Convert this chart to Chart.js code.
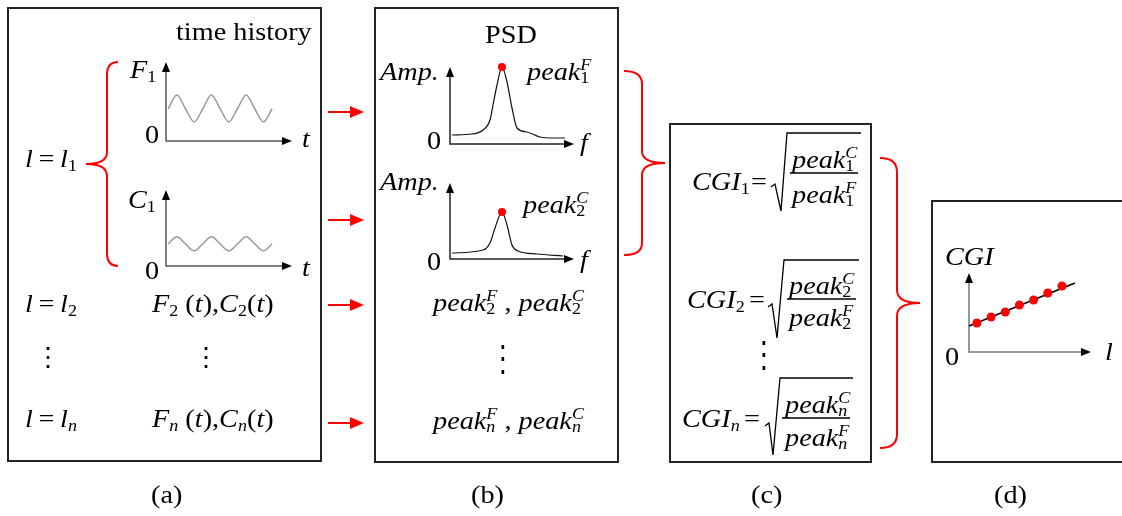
<!DOCTYPE html>
<html>
<head>
<meta charset="utf-8">
<script src="https://cdn.jsdelivr.net/npm/chart.js@4.4.1/dist/chart.umd.min.js"></script>
<style>
    html, body { margin: 0; padding: 0; background: #fff; }
    #page { position: relative; width: 1122px; height: 516px; overflow: hidden; background: #fff;
            font-family: "Liberation Serif", "Times New Roman", serif; color: #000; }
    .box { position: absolute; border: 2px solid #222; box-sizing: border-box; }
    .t { position: absolute; font-size: 25px; line-height: 25px; white-space: nowrap;
         transform: scaleX(1.13); transform-origin: 0 0; }
    .t sub { font-size: 16px; vertical-align: -4px; line-height: 0; }
    .ss { display: inline-block; font-size: 16px; line-height: 13px; vertical-align: -3px; }
    .ss > span { display: block; }
    .dots { position: absolute; font-family: "DejaVu Serif", serif; font-size: 26px; line-height: 1;
            transform-origin: 50% 0; }
    canvas { position: absolute; }
    svg { position: absolute; left: 0; top: 0; }
</style>
</head>
<body>
<div id="page">
    <div class="box" style="left:7px; top:7px; width:315px; height:455px;"></div>
    <div class="box" style="left:374px; top:7px; width:245px; height:456px;"></div>
    <div class="box" style="left:669px; top:123px; width:203px; height:340px;"></div>
    <div class="box" style="left:931px; top:200px; width:220px; height:263px;"></div>

    <canvas id="forceChart" width="138" height="91" style="left:160px; top:56px;"></canvas>
    <canvas id="cableChart" width="138" height="88" style="left:160px; top:184px;"></canvas>
    <canvas id="psdForceChart" width="136" height="89" style="left:444px; top:61px;"></canvas>
    <canvas id="psdCableChart" width="136" height="88" style="left:444px; top:177px;"></canvas>
    <canvas id="cgiChart" width="134" height="91" style="left:963px; top:267px;"></canvas>

    <svg width="1122" height="516">
        <g fill="none" stroke="#f00" stroke-width="2">
            <!-- braces -->
            <path d="M118,62 Q107,62 107,75 L107,152 Q107,164 86,164 Q107,164 107,176 L107,253 Q107,266 118,266"/>
            <path d="M624,71 Q642,71 642,84 L642,151 Q642,163 665,163 Q642,163 642,175 L642,243 Q642,255 624,255"/>
            <path d="M880,158 Q897,158 897,172 L897,290 Q897,303 920,303 Q897,303 897,316 L897,434 Q897,448 880,448"/>
        </g>
        <g id="arrows"></g>
        <g fill="none" stroke="#000" stroke-width="1.3">
            <!-- radicals and fraction bars -->
            <path d="M771,187 L775,184 L781,211 L787,133 L861,133"/>
            <path d="M790,173 L858,173"/>
            <path d="M768,307 L772,304 L777,338 L784,260 L859,260"/>
            <path d="M787,299 L856,299"/>
            <path d="M765,426 L769,423 L773,455 L780,378 L853,378"/>
            <path d="M782,418 L850,418"/>
        </g>
    </svg>
</div>

<script>
// time histories, one sample per quarter period
const timeSteps = [0, 1, 2, 3, 4, 5, 6, 7, 8, 9, 10, 11, 12];
const forceSignal = [2.45, 3.5, 2.45, 1.45, 2.45, 3.5, 2.45, 1.45, 2.45, 3.5, 2.45, 1.45, 2.45];
const cableSignal = [1.75, 2.3, 1.75, 1.2, 1.75, 2.3, 1.75, 1.2, 1.75, 2.3, 1.75, 1.2, 1.75];

// power spectral densities
const psdForceFreq = [0.2, 2.2, 3.3, 4.0, 4.3, 4.7, 5.2, 5.7, 6.2, 6.7, 7.7, 9.0, 10.3, 11.5];
const psdForceAmp = [0.9, 1.0, 1.4, 2.4, 3.9, 5.9, 7.7, 6.2, 3.6, 1.6, 1.2, 0.7, 0.6, 0.6];
const psdCableFreq = [0.2, 3.3, 4.0, 4.5, 5.2, 5.7, 6.2, 6.8, 8.7, 11.3];
const psdCableAmp = [0.6, 0.9, 1.6, 3.1, 4.7, 3.4, 1.4, 0.8, 0.5, 0.3];
const peakForce = { f: 5.2, amp: 7.7 };
const peakCable = { f: 5.2, amp: 4.7 };

// CGI against length
const lengths = [1, 2, 3, 4, 5, 6, 7];
const cgiValues = [0.29, 0.35, 0.40, 0.47, 0.52, 0.59, 0.66];
const trendLengths = [0.44, 7.92];
const trendCgi = [0.26, 0.69];

const arrowY = [112, 220, 305, 423];

const page = document.getElementById('page');

function put(html, x, base) {
    const d = document.createElement('div');
    d.className = 't';
    d.style.left = x + 'px';
    d.style.top = (base - 21) + 'px';
    d.innerHTML = html;
    page.appendChild(d);
}
function ss(sup, sub) {
    return '<span class="ss"><span><i>' + sup + '</i></span><span>' + sub + '</span></span>';
}
// vertical ellipsis, stretched to the wanted dot spacing
function vdots(x, top, stretch) {
    const d = document.createElement('div');
    d.className = 'dots';
    d.textContent = '\u22EE';
    page.appendChild(d);
    const r = d.getBoundingClientRect();
    d.style.left = (x - r.width / 2) + 'px';
    d.style.top = (top - 26 * 0.22 * stretch) + 'px';
    d.style.transform = 'scaleY(' + stretch + ')';
}
const pk = (sup, sub) => '<i>peak</i>' + ss(sup, sub);

// (a)
put('time history', 176, 40);
put('<i>F</i><sub>1</sub>', 130, 78);
put('0', 145, 143);
put('<i>t</i>', 302, 147);
put('<i>l</i>\u2009=\u2009<i>l</i><sub>1</sub>', 25, 167);
put('<i>C</i><sub>1</sub>', 128, 208);
put('0', 145, 279);
put('<i>t</i>', 302, 276);
put('<i>l</i>\u2009=\u2009<i>l</i><sub>2</sub>', 25, 312);
put('<i>F</i><sub>2</sub> (<i>t</i>),<i>C</i><sub>2</sub>(<i>t</i>)', 152, 312);
put('<i>l</i>\u2009=\u2009<i>l</i><sub><i>n</i></sub>', 25, 427);
put('<i>F<sub>n</sub></i> (<i>t</i>),<i>C<sub>n</sub></i>(<i>t</i>)', 152, 427);
vdots(48, 350, 1);
vdots(206, 350, 1);

// (b)
put('PSD', 485, 43);
put('<i>Amp.</i>', 380, 80);
put('0', 427, 149);
put('<i>f</i>', 580, 151);
put(pk('F', '1'), 527, 79);
put('<i>Amp.</i>', 380, 190);
put('0', 427, 270);
put('<i>f</i>', 580, 268);
put(pk('C', '2'), 523, 212);
put(pk('F', '2') + ' , ' + pk('C', '2'), 433, 310);
put(pk('F', '<i>n</i>') + ' , ' + pk('C', '<i>n</i>'), 433, 428);
vdots(503, 348, 1.4);

// (c)
put('<i>CGI</i><sub>1</sub>', 692, 190);
put('=', 751, 190);
put(pk('C', '1'), 792, 167);
put(pk('F', '1'), 792, 202);
put('<i>CGI</i><sub>2</sub>', 687, 308);
put('=', 749, 308);
put(pk('C', '2'), 789, 293);
put(pk('F', '2'), 789, 325);
put('<i>CGI<sub>n</sub></i>', 682, 427);
put('=', 744, 427);
put(pk('C', '<i>n</i>'), 785, 412);
put(pk('F', '<i>n</i>'), 785, 445);
vdots(764, 344, 1.4);

// (d)
put('<i>CGI</i>', 945, 265);
put('0', 945, 365);
put('<i>l</i>', 1105, 360);

// panel captions
put('(a)', 151, 503);
put('(b)', 471, 503);
put('(c)', 751, 503);
put('(d)', 994, 503);

// red flow arrows between (a) and (b)
const arrowGroup = document.getElementById('arrows');
arrowY.forEach(y => {
    arrowGroup.innerHTML +=
        '<line x1="328" y1="' + y + '" x2="352" y2="' + y + '" stroke="#f00" stroke-width="2"/>' +
        '<polygon points="364,' + y + ' 350,' + (y - 6) + ' 350,' + (y + 6) + '" fill="#f00"/>';
});

// axes with arrow heads, drawn on the chart area edges
const arrowAxes = {
    id: 'arrowAxes',
    beforeDatasetsDraw(chart, args, opts) {
        const { ctx, chartArea: a } = chart;
        ctx.save();
        ctx.strokeStyle = opts.color || '#000';
        ctx.lineWidth = 1.5;
        ctx.beginPath();
        ctx.moveTo(a.left, a.top + 6);
        ctx.lineTo(a.left, a.bottom);
        ctx.lineTo(a.right - 6, a.bottom);
        ctx.stroke();
        ctx.fillStyle = '#000';
        ctx.beginPath();
        ctx.moveTo(a.left, a.top);
        ctx.lineTo(a.left - 4, a.top + 10);
        ctx.lineTo(a.left + 4, a.top + 10);
        ctx.fill();
        ctx.beginPath();
        ctx.moveTo(a.right, a.bottom);
        ctx.lineTo(a.right - 10, a.bottom - 4);
        ctx.lineTo(a.right - 10, a.bottom + 4);
        ctx.fill();
        ctx.restore();
    }
};

function miniChart(id, datasets, xMin, xMax, yMin, yMax, axisColor) {
    return new Chart(document.getElementById(id), {
        type: 'line',
        data: { datasets: datasets },
        options: {
            responsive: false,
            animation: false,
            events: [],
            layout: { padding: 6 },
            plugins: {
                legend: { display: false },
                tooltip: { enabled: false },
                arrowAxes: { color: axisColor }
            },
            scales: {
                x: { type: 'linear', display: false, min: xMin, max: xMax },
                y: { type: 'linear', display: false, min: yMin, max: yMax }
            }
        },
        plugins: [arrowAxes]
    });
}

const toPoints = (xs, ys) => xs.map((x, i) => ({ x: x, y: ys[i] }));

function curve(xs, ys, color, width) {
    return {
        data: toPoints(xs, ys),
        borderColor: color,
        borderWidth: width,
        pointRadius: 0,
        cubicInterpolationMode: 'monotone',
        clip: false
    };
}
function peakDot(p) {
    return {
        data: [{ x: p.f, y: p.amp }],
        showLine: false,
        pointRadius: 4,
        pointBackgroundColor: '#f00',
        pointBorderWidth: 0,
        clip: false
    };
}

miniChart('forceChart', [curve(timeSteps, forceSignal, '#999', 1.5)], -0.25, 14.3, 0, 6, '#555');
miniChart('cableChart', [curve(timeSteps, cableSignal, '#999', 1.5)], -0.25, 14.3, 0, 6, '#555');
miniChart('psdForceChart', [peakDot(peakForce), curve(psdForceFreq, psdForceAmp, '#111', 1.2)], 0, 12.4, 0, 7.7, '#222');
miniChart('psdCableChart', [peakDot(peakCable), curve(psdCableFreq, psdCableAmp, '#111', 1.2)], 0, 12.4, 0, 7.6, '#222');
miniChart('cgiChart', [
    {
        data: lengths.map((l, i) => ({ x: l, y: cgiValues[i] })),
        showLine: false,
        pointRadius: 4.5,
        pointBackgroundColor: '#f00',
        pointBorderWidth: 0,
        clip: false
    },
    {
        data: toPoints(trendLengths, trendCgi),
        borderColor: '#000',
        borderWidth: 1.5,
        pointRadius: 0,
        clip: false
    }
], 0.44, 9.05, 0, 0.79, '#777');
</script>
</body>
</html>
